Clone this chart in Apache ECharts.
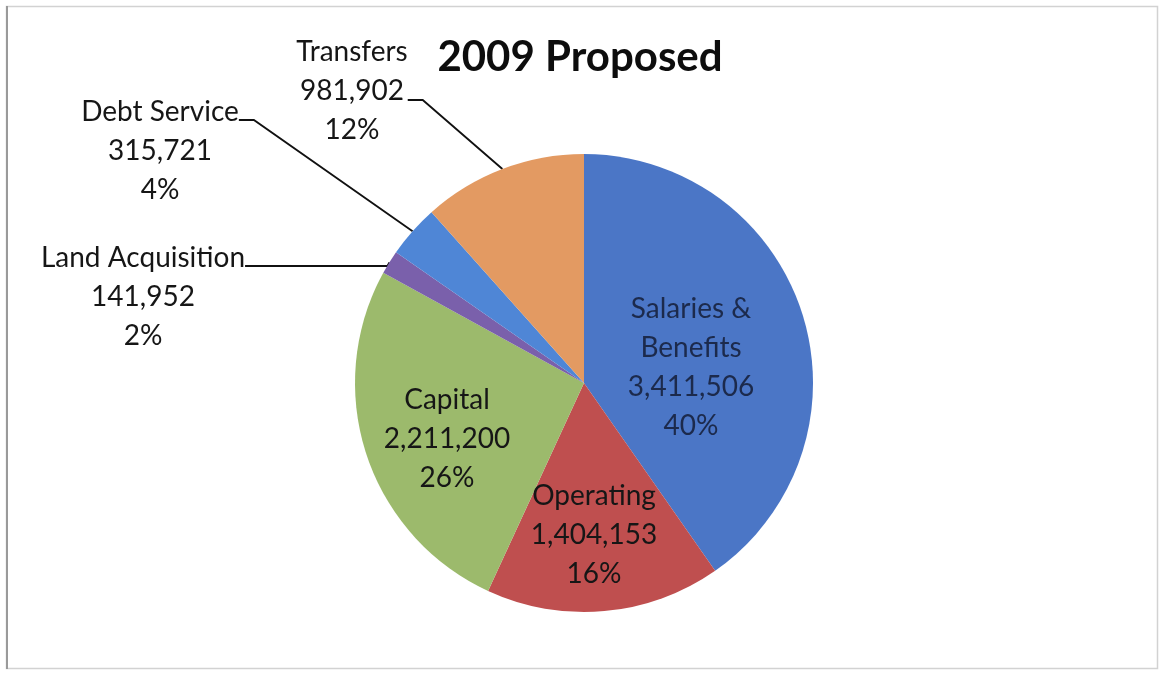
<!DOCTYPE html>
<html>
<head>
<meta charset="utf-8">
<title>2009 Proposed</title>
<script src="https://cdn.jsdelivr.net/npm/echarts@6/dist/echarts.min.js"></script>
<style>
  html, body { margin: 0; padding: 0; background: #ffffff; }
  #chart { width: 1160px; height: 675px; }
</style>
</head>
<body>
<div id="chart"></div>
<script>
// Budget categories and amounts, in drawing order (clockwise from 12 o'clock)
const categories = ['Salaries & Benefits', 'Operating', 'Capital', 'Land Acquisition', 'Debt Service', 'Transfers'];
const amounts = [3411506, 1404153, 2211200, 141952, 315721, 981902];
const titleText = '2009 Proposed';

// Slice colours
const sliceColors = {
  'Salaries & Benefits': '#4b76c6',
  'Operating': '#bf4f4f',
  'Capital': '#9cba6c',
  'Land Acquisition': '#7a60ab',
  'Debt Service': '#4f86d6',
  'Transfers': '#e39a62'
};

// Label block centres (pixels) and which labels sit outside with a leader line
const labelCentres = {
  'Salaries & Benefits': [691, 367],
  'Operating': [594, 535],
  'Capital': [447, 439],
  'Land Acquisition': [143, 297],
  'Debt Service': [160, 151],
  'Transfers': [352, 91]
};
const outsideLabels = ['Land Acquisition', 'Debt Service', 'Transfers'];

const FONT = 'Lato, "Open Sans", "DejaVu Sans", sans-serif';
const LINE_H = 39;

const chart = echarts.init(document.getElementById('chart'), null, { renderer: 'canvas' });

const pieData = categories.map((name, i) => {
  const outside = outsideLabels.indexOf(name) >= 0;
  return {
    name: name,
    value: amounts[i],
    itemStyle: { color: sliceColors[name] },
    label: {
      position: outside ? 'outside' : 'inside',
      color: name === 'Salaries & Benefits' ? '#1c2a4c' : '#161616'
    },
    labelLine: { show: outside }
  };
});

function fmtNum(v) {
  return Number(v).toLocaleString('en-US');
}

chart.setOption({
  backgroundColor: '#ffffff',
  animation: false,
  title: {
    text: titleText,
    left: 'center',
    top: 33,
    padding: [0, 0, 0, 8],
    textStyle: {
      fontFamily: FONT,
      fontWeight: 'bold',
      fontSize: 42,
      lineHeight: 48,
      color: '#0d0d0d'
    }
  },
  graphic: [
    {
      type: 'rect',
      shape: { x: 6.5, y: 6.5, width: 1151, height: 662 },
      style: { fill: 'none', stroke: '#d2d2d2', lineWidth: 1.5 },
      silent: true
    },
    {
      type: 'line',
      shape: { x1: 7, y1: 6, x2: 7, y2: 669 },
      style: { stroke: '#9a9a9a', lineWidth: 2 },
      silent: true
    }
  ],
  series: [
    {
      type: 'pie',
      center: [584, 383],
      radius: 229,
      startAngle: 90,
      clockwise: true,
      percentPrecision: 0,
      avoidLabelOverlap: false,
      itemStyle: { borderWidth: 0 },
      label: {
        show: true,
        fontFamily: FONT,
        fontSize: 28,
        lineHeight: LINE_H,
        align: 'center',
        formatter: function (p) {
          const name = p.name.replace('& ', '&\n');
          return name + '\n' + fmtNum(p.value) + '\n' + p.percent + '%';
        }
      },
      labelLine: {
        show: true,
        lineStyle: { color: '#111111', width: 1.8 }
      },
      labelLayout: function (params) {
        const name = categories[params.dataIndex];
        const c = labelCentres[name];
        const out = { x: c[0], y: c[1], align: 'center', verticalAlign: 'middle' };
        if (outsideLabels.indexOf(name) >= 0 && params.labelLinePoints) {
          const w = params.labelRect.width;
          const h = params.labelRect.height;
          const right = c[0] + w / 2;
          const top = c[1] - h / 2;
          const edge = params.labelLinePoints[0];
          let tailY;
          if (name === 'Transfers') {
            tailY = c[1] + 9;
          } else {
            tailY = top + LINE_H / 2 + 8;
          }
          if (name === 'Land Acquisition') {
            out.labelLinePoints = [edge, [edge[0] - 2, tailY], [right, tailY]];
          } else {
            out.labelLinePoints = [edge, [right + 15, tailY], [right, tailY]];
          }
        }
        return out;
      },
      data: pieData
    }
  ]
});
</script>
</body>
</html>
